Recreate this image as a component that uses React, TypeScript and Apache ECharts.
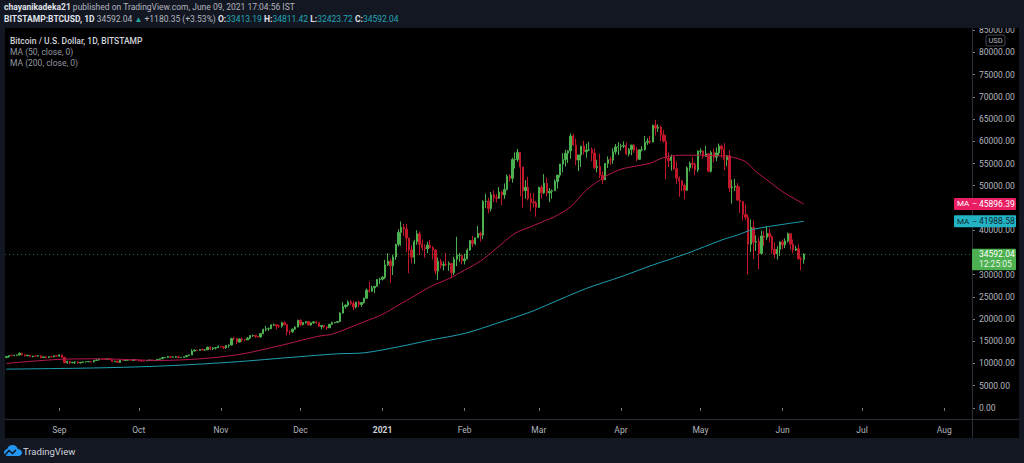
import React, { useEffect, useRef } from "react";
import * as echarts from "echarts";

// ---------- DATA ----------
// daily candles, each row: [open, high, low, close]
const aug2020 = [
  [11380, 11620, 11150, 11580], [11580, 11800, 11280, 11780], [11780, 12030, 11680, 11770], [11770, 11960, 11700, 11860],
  [11860, 11940, 11690, 11910], [11910, 12470, 11800, 12290], [12290, 12390, 11820, 11970], [11970, 12030, 11560, 11740],
  [11740, 11880, 11670, 11860], [11860, 11890, 11510, 11520], [11520, 11690, 11380, 11680], [11680, 11710, 11530, 11650],
  [11650, 11820, 11600, 11760], [11760, 11770, 11130, 11340], [11340, 11540, 11260, 11470], [11470, 11590, 11180, 11320],
  [11320, 11550, 11300, 11530], [11530, 11580, 11450, 11480], [11480, 11720, 11450, 11710], [11710, 11780, 11560, 11660],
];
const sep2020 = [
  [11660, 12070, 11530, 11920], [11920, 11950, 11200, 11390], [11390, 11480, 10010, 10170], [10170, 10630, 9930, 10470],
  [10470, 10560, 9880, 10170], [10170, 10350, 10020, 10270], [10270, 10400, 9880, 10370], [10370, 10420, 9880, 10120],
  [10120, 10360, 10000, 10230], [10230, 10500, 10200, 10350], [10350, 10400, 10200, 10390], [10390, 10480, 10300, 10440],
  [10440, 10570, 10230, 10330], [10330, 10780, 10270, 10680], [10680, 10940, 10630, 10790], [10790, 11090, 10670, 10950],
  [10950, 11040, 10750, 10940], [10940, 11030, 10820, 10930], [10930, 11170, 10900, 11080], [11080, 11090, 10770, 10920],
  [10920, 10990, 10350, 10420], [10420, 10580, 10360, 10540], [10540, 10570, 10150, 10240], [10240, 10780, 10200, 10740],
  [10740, 10760, 10550, 10690], [10690, 10780, 10640, 10730], [10730, 10800, 10630, 10770], [10770, 10960, 10660, 10700],
  [10700, 10860, 10640, 10840], [10840, 10850, 10660, 10780],
];
const oct2020 = [
  [10780, 10940, 10530, 10620], [10620, 10660, 10370, 10570], [10570, 10600, 10500, 10550], [10550, 10690, 10530, 10670],
  [10670, 10800, 10630, 10790], [10790, 10800, 10530, 10600], [10600, 10690, 10560, 10670], [10670, 10960, 10530, 10920],
  [10920, 11110, 10830, 11060], [11060, 11490, 11050, 11300], [11300, 11440, 11260, 11380], [11380, 11720, 11200, 11540],
  [11540, 11560, 11290, 11430], [11430, 11560, 11280, 11430], [11430, 11630, 11290, 11510], [11510, 11550, 11200, 11320],
  [11320, 11400, 11300, 11370], [11370, 11520, 11350, 11500], [11500, 11820, 11420, 11750], [11750, 12010, 11690, 11920],
  [11920, 13220, 11900, 12810], [12810, 13190, 12700, 12990], [12990, 13030, 12720, 12940], [12940, 13160, 12890, 13130],
  [13130, 13350, 12910, 13040], [13040, 13250, 12800, 13070], [13070, 13790, 13060, 13650], [13650, 13860, 12940, 13270],
  [13270, 13640, 12990, 13460], [13460, 13650, 13130, 13560], [13560, 14090, 13430, 13800],
];
const nov2020 = [
  [13800, 13900, 13620, 13760], [13760, 13830, 13240, 13550], [13550, 14070, 13310, 14030], [14030, 14250, 13540, 14150],
  [14150, 15770, 14090, 15590], [15590, 15980, 15200, 15580], [15580, 15770, 14350, 14830], [14830, 15650, 14720, 15480],
  [15480, 15850, 14850, 15330], [15330, 15470, 15100, 15310], [15310, 15960, 15290, 15700], [15700, 16350, 15450, 16290],
  [16290, 16480, 15960, 16330], [16330, 16340, 15750, 16070], [16070, 16130, 15820, 15960], [15960, 16870, 15880, 16720],
  [16720, 17850, 16550, 17660], [17660, 18480, 17220, 17800], [17800, 18130, 17350, 17820], [17820, 18800, 17760, 18680],
  [18680, 18960, 18400, 18700], [18700, 18760, 17660, 18420], [18420, 18760, 18000, 18370], [18370, 19420, 18050, 19160],
  [19160, 19480, 18560, 18740], [18740, 18930, 16300, 17150], [17150, 17450, 16460, 17140], [17140, 17900, 16880, 17720],
  [17720, 18350, 17560, 18180], [18180, 19860, 18180, 19700],
];
const dec2020 = [
  [19700, 19920, 18330, 18770], [18770, 19320, 18550, 19220], [19220, 19580, 18920, 19440], [19440, 19530, 18600, 18650],
  [18650, 19190, 18510, 19150], [19150, 19420, 18900, 19360], [19360, 19420, 18910, 19170], [19170, 19280, 18200, 18320],
  [18320, 18640, 17660, 18550], [18550, 18560, 17930, 18250], [18250, 18270, 17580, 18030], [18030, 18950, 18000, 18800],
  [18800, 19400, 18720, 19170], [19170, 19330, 19000, 19270], [19270, 19570, 19050, 19440], [19440, 21560, 19300, 21340],
  [21340, 23770, 21230, 22800], [22800, 23290, 22380, 23130], [23130, 24190, 22760, 23860], [23860, 24300, 23090, 23480],
  [23480, 24100, 22000, 22720], [22720, 23840, 22350, 23820], [23820, 24140, 22730, 23250], [23250, 23790, 22720, 23720],
  [23720, 24790, 23440, 24690], [24690, 26870, 24520, 26490], [26490, 28400, 25900, 26280], [26280, 27500, 26130, 27040],
  [27040, 27400, 25860, 27360], [27360, 28990, 27330, 28880], [28880, 29300, 27870, 28970],
];
const jan2021 = [
  [28970, 29680, 28700, 29400], [29400, 33300, 29000, 32200], [32200, 34800, 31950, 33000], [33000, 33600, 28130, 31990],
  [31990, 34460, 29900, 33970], [33970, 36940, 33300, 36820], [36820, 40200, 36320, 39490], [39490, 41950, 36500, 40670],
  [40670, 41390, 38720, 40240], [40240, 41350, 35100, 38240], [38240, 38260, 30300, 35570], [35570, 36600, 32500, 33920],
  [33920, 37800, 32400, 37390], [37390, 40000, 36700, 39190], [39190, 39700, 34400, 36830], [36830, 37900, 35400, 36070],
  [36070, 36830, 33850, 35820], [35820, 37400, 34800, 36630], [36630, 37850, 35900, 36070], [36070, 36400, 33400, 35550],
  [35550, 35600, 30070, 30830], [30830, 33830, 28800, 33000], [33000, 33500, 31400, 32100], [32100, 32950, 30950, 32290],
  [32290, 34870, 31900, 32270], [32270, 32940, 30840, 32520], [32520, 32560, 29250, 30430], [30430, 34000, 29900, 33460],
  [33460, 38500, 31900, 34320], [34320, 34900, 32900, 34320], [34320, 34320, 32300, 33110],
];
const feb2021 = [
  [33110, 34700, 32300, 33530], [33530, 35900, 33430, 35510], [35510, 37700, 35380, 37660], [37660, 38700, 36200, 36980],
  [36980, 38300, 36600, 38290], [38290, 40950, 38220, 39250], [39250, 39700, 37400, 38880], [38880, 46750, 38000, 46450],
  [46450, 48200, 45000, 46500], [46500, 47300, 43770, 44850], [44850, 48600, 44200, 48010], [48010, 48900, 46300, 47400],
  [47400, 48150, 46230, 47190], [47190, 49700, 47050, 48580], [48580, 48850, 45600, 47930], [47930, 50500, 47050, 49140],
  [49140, 52550, 48950, 52150], [52150, 52500, 50950, 51680], [51680, 56300, 50700, 55890], [55890, 57500, 53900, 55920],
  [55920, 58300, 55350, 57490], [57490, 57500, 47600, 54210], [54210, 54200, 45000, 48890], [48890, 51300, 47050, 49650],
  [49650, 52000, 46700, 47060], [47060, 48350, 44200, 46280], [46280, 48350, 45100, 46110], [46110, 46600, 43050, 45140],
];
const mar2021 = [
  [45140, 49800, 45020, 49630], [49630, 50200, 47100, 48400], [48400, 52600, 48130, 50540], [50540, 51800, 47550, 48380],
  [48380, 49450, 46300, 48760], [48760, 49200, 47100, 48880], [48880, 51450, 48880, 50970], [50970, 52400, 49350, 52390],
  [52390, 54900, 51850, 54890], [54890, 57300, 53000, 55860], [55860, 58100, 54300, 57330], [57330, 58000, 55100, 57830],
  [57830, 61800, 56100, 61180], [61180, 61700, 59000, 59160], [59160, 60600, 54600, 55780], [55780, 56900, 53300, 56930],
  [56930, 58950, 54200, 58920], [58920, 60100, 57000, 57650], [57650, 59450, 56300, 58050], [58050, 59900, 57850, 58100],
  [58100, 58600, 55500, 57350], [57350, 58400, 53700, 54100], [54100, 55850, 53000, 54340], [54340, 57200, 51700, 52300],
  [52300, 53200, 50400, 51320], [51320, 55100, 51300, 55030], [55030, 56600, 54000, 55840], [55840, 56550, 54700, 55780],
  [55780, 58400, 54950, 57630], [57630, 59400, 57050, 58740], [58740, 59800, 56900, 58790],
];
const apr2021 = [
  [58790, 59450, 57950, 58920], [58920, 60000, 58450, 59060], [59060, 59750, 56900, 57120], [57120, 58500, 56600, 58180],
  [58180, 59250, 56850, 59130], [59130, 59450, 57400, 57990], [57990, 58650, 55500, 55950], [55950, 58150, 55800, 58080],
  [58080, 58900, 57700, 58100], [58100, 61200, 57900, 59770], [59770, 60700, 59200, 59990], [59990, 61200, 59400, 59830],
  [59830, 63750, 59800, 63570], [63570, 64850, 61300, 62940], [62940, 63800, 62100, 63180], [63180, 63500, 60000, 61460],
  [61460, 62500, 59700, 60050], [60050, 61400, 51500, 56150], [56150, 57500, 54200, 55660], [55660, 57000, 53400, 56470],
  [56470, 56800, 53600, 53800], [53800, 55450, 50400, 51700], [51700, 52100, 47500, 51090], [51090, 51200, 48750, 50050],
  [50050, 50500, 46950, 49000], [49000, 54350, 48800, 54020], [54020, 55450, 53200, 55040], [55040, 56400, 53900, 54840],
  [54840, 55200, 52350, 53560], [53560, 58000, 53050, 57750],
];
const may2021 = [
  [57750, 58400, 57050, 57830], [57830, 57900, 56050, 56630], [56630, 58950, 56500, 57210], [57210, 57200, 53050, 53240],
  [53240, 57900, 52950, 57470], [57470, 58350, 55250, 56430], [56430, 58600, 55500, 57380], [57380, 59500, 56900, 58930],
  [58930, 59250, 56300, 58240], [58240, 59600, 53500, 55860], [55860, 56900, 54400, 56750], [56750, 58000, 48600, 49500],
  [49500, 51350, 46000, 49690], [49690, 51550, 48800, 49930], [49930, 50600, 46600, 46760], [46760, 49800, 43900, 46430],
  [46430, 46600, 42150, 43540], [43540, 45800, 42300, 42910], [42910, 43550, 30000, 36830], [36830, 42450, 35050, 40630],
  [40630, 42200, 33500, 37300], [37300, 38850, 35300, 37450], [37450, 38300, 31200, 34770], [34770, 39900, 34450, 38700],
  [38700, 39800, 36450, 38390], [38390, 40850, 37800, 39290], [39290, 40400, 37200, 38550], [38550, 38850, 34700, 35680],
  [35680, 37300, 33650, 34630], [34630, 36400, 33400, 35680], [35680, 37500, 34200, 37340],
];
const jun2021 = [
  [37340, 37900, 35700, 36680], [36680, 38200, 35950, 37570], [37570, 39450, 37200, 39190], [39190, 39250, 35600, 36850],
  [36850, 37900, 34800, 35520], [35520, 36450, 35300, 35800], [35800, 36800, 33350, 33560], [33560, 34050, 31000, 33410],
  [33413.19, 34811.42, 32423.72, 34592.04],
];

// moving averages: [date, value]
const ma50Points: [string, number][] = [
  ["2020-08-12", 10000], ["2020-09-03", 10970], ["2020-09-16", 11040], ["2020-10-09", 10680], ["2020-10-24", 11040],
  ["2020-11-08", 12030], ["2020-11-23", 13970], ["2020-11-30", 15000], ["2020-12-08", 16150], ["2020-12-13", 16600],
  ["2020-12-25", 19380], ["2021-01-01", 21040], ["2021-01-07", 23140], ["2021-01-13", 25170], ["2021-01-19", 27260],
  ["2021-01-26", 29070], ["2021-02-01", 31020], ["2021-02-07", 33050], ["2021-02-13", 35910], ["2021-02-20", 39290],
  ["2021-02-26", 40780], ["2021-03-04", 42290], ["2021-03-07", 43030], ["2021-03-13", 45290], ["2021-03-19", 49050],
  ["2021-03-26", 52040], ["2021-04-01", 53710], ["2021-04-07", 54460], ["2021-04-12", 55060], ["2021-04-17", 56330],
  ["2021-04-23", 56860], ["2021-04-30", 56860], ["2021-05-06", 56770], ["2021-05-12", 56550], ["2021-05-18", 55420],
  ["2021-05-22", 53170], ["2021-05-27", 50920], ["2021-06-01", 48660], ["2021-06-09", 45896.39],
];
const ma200Points: [string, number][] = [
  ["2020-08-12", 8720], ["2020-09-16", 9010], ["2020-10-11", 9460], ["2020-11-05", 10300], ["2020-11-30", 11490],
  ["2020-12-15", 12170], ["2020-12-25", 12390], ["2021-01-07", 13740], ["2021-01-19", 15250], ["2021-02-01", 16760],
  ["2021-02-13", 19010], ["2021-02-26", 21630], ["2021-03-04", 23140], ["2021-03-19", 26900], ["2021-04-01", 29520],
  ["2021-04-13", 32150], ["2021-04-26", 34780], ["2021-05-09", 37780], ["2021-05-15", 38910], ["2021-05-21", 40190],
  ["2021-06-02", 41390], ["2021-06-09", 41988.58],
];

const yTickValues = [0, 5000, 10000, 15000, 20000, 25000, 30000, 35000, 40000, 45000, 50000, 55000, 60000, 65000, 70000, 75000, 80000, 85000];
// labels hidden behind the price tags in the reference (35000, 45000) are left out
const yLabelValues = [0, 5000, 10000, 15000, 20000, 25000, 30000, 40000, 50000, 55000, 60000, 65000, 70000, 75000, 80000, 85000];
const monthNames = ["Jan", "Feb", "Mar", "Apr", "May", "Jun", "Jul", "Aug", "Sep", "Oct", "Nov", "Dec"];
const lastClose = 34592.04;
const ma50Last = 45896.39;
const ma200Last = 41988.58;
const countdown = "12:25:05";

const START_UTC = Date.UTC(2020, 7, 12);
const DAY_COUNT = 365;

const categories: string[] = [];
for (let i = 0; i < DAY_COUNT; i++) {
  categories.push(new Date(START_UTC + i * 86400000).toISOString().slice(0, 10));
}
const ohlc = [aug2020, sep2020, oct2020, nov2020, dec2020, jan2021, feb2021, mar2021, apr2021, may2021, jun2021].flat();

// ---------- STYLE ----------
const BG = "#131722";
const FONT = "Roboto, 'Liberation Sans', sans-serif";
const UP = "#4caf50";
const DOWN = "#c0172a";
const MA50C = "#b7184f";
const MA200C = "#1c9fb0";
const AXIS_TXT = "#b2b5be";

echarts.graphic.registerShape(
  "tvlogo",
  echarts.graphic.extendPath(
    "M4 11 C1.8 11 0 9.4 0 7.4 C0 5.6 1.4 4.1 3.2 3.9 C3.9 1.6 6 0 8.5 0 C11 0 13.1 1.6 13.7 3.9 C16.1 4 18 5.6 18 7.6 C18 9.5 16.5 11 14.5 11 Z",
    {}
  ) as any
);

export default function App() {
  const ref = useRef<HTMLDivElement>(null);
  useEffect(() => {
    document.body.style.margin = "0";
    document.body.style.background = BG;
    const chart = echarts.init(ref.current!, undefined, { renderer: "svg" });

    const isMonthStart = (_i: number, v: string) => v.slice(8) === "01";

    const staticGraphic: any[] = [
      { id: "panel", type: "rect", z: -10, shape: { x: 5, y: 28, width: 1014, height: 410 }, style: { fill: "#000" } },
      { id: "topcover", type: "rect", z: 50, shape: { x: 0, y: 0, width: 1024, height: 28 }, style: { fill: BG } },
      { id: "vsep", type: "line", z: 40, shape: { x1: 972.5, y1: 28, x2: 972.5, y2: 438 }, style: { stroke: "#2a2e39", lineWidth: 1 } },
      { id: "hsep", type: "line", z: 40, shape: { x1: 5, y1: 419.5, x2: 1019, y2: 419.5 }, style: { stroke: "#2a2e39", lineWidth: 1 } },
      {
        id: "h1", type: "text", z: 60, x: 4, y: 7,
        style: {
          text: "{b|chayanikadeka21} published on TradingView.com, June 09, 2021 17:04:56 IST",
          fill: "#b2b5be", fontSize: 8.5, fontFamily: FONT, verticalAlign: "middle",
          rich: { b: { fill: "#e0e3eb", fontWeight: "bold", fontSize: 8.5, fontFamily: FONT } },
        },
      },
      {
        id: "h2", type: "text", z: 60, x: 4, y: 19,
        style: {
          text: "{b|BITSTAMP:BTCUSD, 1D} 34592.04 {g|▲} +1180.35 (+3.53%) {b|O:}{t|33413.19} {b|H:}{t|34811.42} {b|L:}{t|32423.72} {b|C:}{t|34592.04}",
          fill: "#b2b5be", fontSize: 8.5, fontFamily: FONT, verticalAlign: "middle",
          rich: {
            b: { fill: "#e0e3eb", fontWeight: "bold", fontSize: 8.5, fontFamily: FONT },
            t: { fill: "#22a6b5", fontSize: 8.5, fontFamily: FONT },
            g: { fill: "#26a69a", fontSize: 8, fontFamily: FONT },
          },
        },
      },
      { id: "lg1", type: "text", z: 60, x: 10, y: 40.5, style: { text: "Bitcoin / U.S. Dollar, 1D, BITSTAMP", fill: "#d1d4dc", fontSize: 8.5, fontWeight: 500, fontFamily: FONT, verticalAlign: "middle" } },
      { id: "lg2", type: "text", z: 60, x: 10, y: 52, style: { text: "MA (50, close, 0)", fill: "#9598a1", fontSize: 8.5, fontFamily: FONT, verticalAlign: "middle" } },
      { id: "lg3", type: "text", z: 60, x: 10, y: 62.5, style: { text: "MA (200, close, 0)", fill: "#9598a1", fontSize: 8.5, fontFamily: FONT, verticalAlign: "middle" } },
      { id: "usdbox", type: "rect", z: 60, shape: { x: 986, y: 35, width: 19, height: 11, r: 2 }, style: { fill: "#000", stroke: "#434651", lineWidth: 1 } },
      { id: "usdtxt", type: "text", z: 61, x: 995.5, y: 40.5, style: { text: "USD", fill: AXIS_TXT, fontSize: 7.5, fontFamily: FONT, align: "center", verticalAlign: "middle" } },
      { id: "logo", type: "tvlogo", z: 60, x: 4, y: 445, scaleX: 1, scaleY: 1, style: { fill: "#2196f3" } },
      { id: "logozig", type: "polyline", z: 61, shape: { points: [[5, 455], [9, 450.5], [12.5, 453.5], [16, 450]] }, style: { stroke: BG, lineWidth: 1.6, fill: "none" } },
      { id: "logotxt", type: "text", z: 60, x: 23, y: 451, style: { text: "TradingView", fill: "#d1d4dc", fontSize: 9.5, fontFamily: FONT, verticalAlign: "middle" } },
    ];

    chart.setOption({
      animation: false,
      backgroundColor: BG,
      textStyle: { fontFamily: FONT },
      grid: { left: 5, right: 52, top: 28, bottom: 44, containLabel: false },
      xAxis: {
        type: "category",
        data: categories,
        boundaryGap: true,
        axisLine: { show: false },
        axisTick: { show: true, interval: isMonthStart, alignWithLabel: true, length: 3, lineStyle: { color: "#787b86" } },
        axisLabel: {
          interval: isMonthStart,
          margin: 6,
          color: AXIS_TXT,
          fontSize: 8.5,
          fontFamily: FONT,
          formatter: (v: string) => {
            const m = +v.slice(5, 7);
            return m === 1 ? "{y|" + v.slice(0, 4) + "}" : monthNames[m - 1];
          },
          rich: { y: { fontWeight: "bold", color: "#d1d4dc", fontSize: 8.5, fontFamily: FONT } },
        },
        splitLine: { show: false },
      },
      yAxis: {
        type: "value",
        position: "right",
        min: -2500,
        max: 85500,
        scale: false,
        splitLine: { show: false },
        axisLine: { show: false },
        axisTick: { show: true, customValues: yTickValues, length: 3, lineStyle: { color: "#787b86" } },
        axisLabel: { customValues: yLabelValues, color: AXIS_TXT, fontSize: 8.5, fontFamily: FONT, margin: 7, formatter: (v: number) => v.toFixed(2) },
      },
      series: [
        {
          type: "candlestick",
          data: ohlc.map((r) => [r[0], r[3], r[2], r[1]]),
          barWidth: "70%",
          itemStyle: { color: UP, color0: DOWN, borderColor: UP, borderColor0: DOWN, borderWidth: 1 },
          markLine: {
            symbol: "none",
            silent: true,
            animation: false,
            label: { show: false },
            lineStyle: { color: UP, type: [1, 3], width: 1, opacity: 0.6 },
            data: [{ yAxis: lastClose }],
          },
        },
        { type: "line", data: ma50Points, showSymbol: false, smooth: 0.3, lineStyle: { color: MA50C, width: 1 }, z: 3 },
        { type: "line", data: ma200Points, showSymbol: false, smooth: 0.3, lineStyle: { color: MA200C, width: 1 }, z: 3 },
      ],
      graphic: { elements: staticGraphic },
    });

    const yOf = (v: number) => chart.convertToPixel({ yAxisIndex: 0 }, v) as number;
    const y50 = yOf(ma50Last);
    const y200 = yOf(ma200Last);
    const yc = yOf(lastClose);
    const tag = (id: string, y: number, fill: string, txt: string, value: number) => [
      { id: id + "r", type: "rect", z: 70, shape: { x: 954, y: y - 6, width: 62, height: 12, r: 1 }, style: { fill } },
      { id: id + "a", type: "text", z: 71, x: 957, y, style: { text: "MA", fill: txt, fontSize: 8, fontFamily: FONT, verticalAlign: "middle" } },
      { id: id + "d", type: "text", z: 71, x: 972, y, style: { text: "–", fill: txt, fontSize: 8, fontFamily: FONT, verticalAlign: "middle" } },
      { id: id + "v", type: "text", z: 71, x: 979, y, style: { text: value.toFixed(2), fill: txt, fontSize: 8.5, fontFamily: FONT, verticalAlign: "middle" } },
    ];
    chart.setOption({
      graphic: {
        elements: [
          ...tag("t50", y50, "#e91e63", "#ffffff", ma50Last),
          ...tag("t200", y200, "#22b3c5", "#10262b", ma200Last),
          { id: "cr", type: "rect", z: 70, shape: { x: 972, y: yc - 5.5, width: 44, height: 21.5, r: 1 }, style: { fill: UP } },
          { id: "cv", type: "text", z: 71, x: 979, y: yc, style: { text: lastClose.toFixed(2), fill: "#ffffff", fontSize: 8.5, fontFamily: FONT, verticalAlign: "middle" } },
          { id: "ct", type: "text", z: 71, x: 979, y: yc + 10, style: { text: countdown, fill: "#e8f5e9", fontSize: 8.5, fontFamily: FONT, verticalAlign: "middle" } },
        ],
      },
    });

    return () => chart.dispose();
  }, []);
  return <div ref={ref} style={{ width: 1024, height: 463 }} />;
}
